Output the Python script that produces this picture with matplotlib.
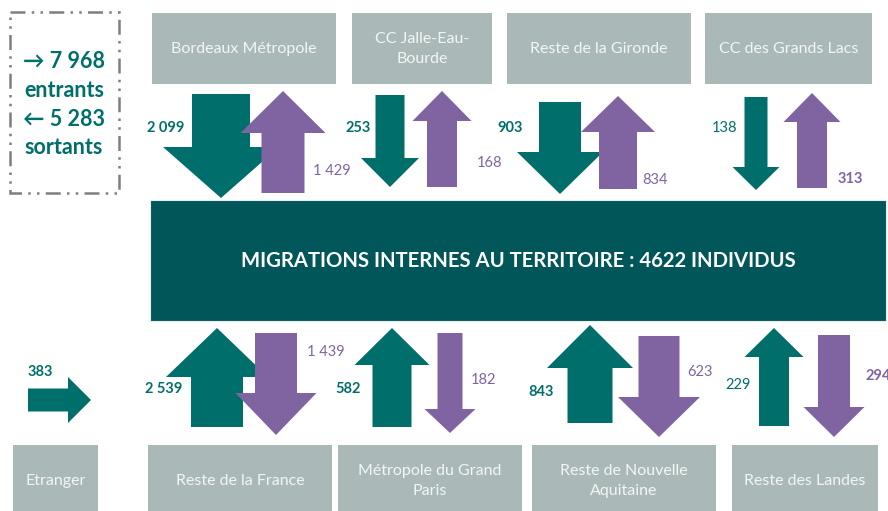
import matplotlib.pyplot as plt
from matplotlib.patches import Polygon, Rectangle

# DATA
top_names = ["Bordeaux Métropole", "CC Jalle-Eau-\nBourde", "Reste de la Gironde", "CC des Grands Lacs"]
top_entrants = ["2 099", "253", "903", "138"]
top_sortants = ["1 429", "168", "834", "313"]
bottom_names = ["Reste de la France", "Métropole du Grand\nParis", "Reste de Nouvelle\nAquitaine", "Reste des Landes"]
bottom_entrants = ["2 539", "582", "843", "229"]
bottom_sortants = ["1 439", "182", "623", "294"]
foreign_name = "Etranger"
foreign_entrants = "383"
total_in = "7 968"
total_out = "5 283"
title = "MIGRATIONS INTERNES AU TERRITOIRE : 4622 INDIVIDUS"

# STYLE / LAYOUT (pixel coordinates)
TEAL = "#006f6b"
DARK = "#005659"
PURPLE = "#8064a2"
GREY = "#aab9b8"
BOXTXT = "#f2f5f5"
FONT = "Lato"

top_boxes = [(152, 336), (352, 492), (507, 691), (705, 872)]
bottom_boxes = [(148, 332), (338, 522), (532, 716), (732, 878)]
# cx, tail, tip, shaft width, head width, head length
top_teal = [(221, 94, 198, 58, 116, 51), (390, 95, 187, 29, 58, 29),
            (560, 102, 194, 42, 86, 42), (756, 97, 190, 23, 47, 23)]
top_purple = [(283, 193, 91, 43, 85, 42), (442, 187, 91, 30, 59, 30),
              (618, 189, 96, 38, 74, 36), (812, 188, 93, 30, 57, 29)]
bot_teal = [(217, 427, 328, 52, 102, 49), (392, 427, 328, 39, 75, 37),
            (590, 423, 325, 45, 86, 43), (774, 426, 328, 30, 59, 29)]
bot_purple = [(276, 333, 435, 42, 81, 42), (450, 333, 433, 25, 51, 24),
              (659, 336, 437, 41, 82, 40), (834, 335, 437, 32, 61, 30)]
top_in_pos = [(147, 128, "bold"), (345, 128, "bold"), (497, 128, "bold"), (712, 128, "normal")]
top_out_pos = [(313, 171, "normal"), (477, 163, "normal"), (642, 180, "normal"), (838, 179, "bold")]
bot_in_pos = [(145, 389, "bold"), (335, 389, "bold"), (528, 392, "bold"), (725, 385, "normal")]
bot_out_pos = [(307, 352, "normal"), (471, 380, "normal"), (687, 372, "normal"), (865, 376, "bold")]


def varrow(ax, cx, tail, tip, sw, hw, hl, color):
    d = 1 if tip > tail else -1
    base = tip - d * hl
    pts = [(cx - sw / 2, tail), (cx + sw / 2, tail), (cx + sw / 2, base), (cx + hw / 2, base),
           (cx, tip), (cx - hw / 2, base), (cx - sw / 2, base)]
    ax.add_patch(Polygon(pts, closed=True, fc=color, ec="none"))


def harrow(ax, cy, tail, tip, sw, hw, hl, color):
    base = tip - hl
    pts = [(tail, cy - sw / 2), (base, cy - sw / 2), (base, cy - hw / 2), (tip, cy),
           (base, cy + hw / 2), (base, cy + sw / 2), (tail, cy + sw / 2)]
    ax.add_patch(Polygon(pts, closed=True, fc=color, ec="none"))


fig = plt.figure(figsize=(8.88, 5.11), dpi=100)
ax = fig.add_axes([0, 0, 1, 1])
ax.set_xlim(0, 888)
ax.set_ylim(511, 0)
ax.axis("off")

# grey boxes
for (x0, x1), name in zip(top_boxes, top_names):
    ax.add_patch(Rectangle((x0, 13), x1 - x0, 71, fc=GREY, ec="none"))
    ax.text((x0 + x1) / 2, 49, name, ha="center", va="center", color=BOXTXT,
            fontsize=11.5, family=FONT, linespacing=1.55)
for (x0, x1), name in zip(bottom_boxes, bottom_names):
    ax.add_patch(Rectangle((x0, 445), x1 - x0, 70, fc=GREY, ec="none"))
    ax.text((x0 + x1) / 2, 481, name, ha="center", va="center", color=BOXTXT,
            fontsize=11.5, family=FONT, linespacing=1.55)
ax.add_patch(Rectangle((13, 445), 85, 70, fc=GREY, ec="none"))
ax.text(55.5, 481, foreign_name, ha="center", va="center", color=BOXTXT, fontsize=11.5, family=FONT)

# central box
ax.add_patch(Rectangle((150, 200), 736, 121, fc=DARK, ec="#e6eeee", lw=0.8))
ax.text(518, 261, title, ha="center", va="center", color="white", fontsize=14.6,
        fontweight="bold", family=FONT)

# arrows: teal first, purple on top
for a in top_teal + bot_teal:
    varrow(ax, *a, TEAL)
for a in top_purple + bot_purple:
    varrow(ax, *a, PURPLE)
harrow(ax, 400, 28, 91, 23, 46, 23, TEAL)

# value labels
for v, (x, y, w) in zip(top_entrants, top_in_pos):
    ax.text(x, y, v, ha="left", va="center", color=TEAL, fontsize=10.5, fontweight=w, family=FONT)
for v, (x, y, w) in zip(top_sortants, top_out_pos):
    ax.text(x, y, v, ha="left", va="center", color=PURPLE, fontsize=10.5, fontweight=w, family=FONT)
for v, (x, y, w) in zip(bottom_entrants, bot_in_pos):
    ax.text(x, y, v, ha="left", va="center", color=TEAL, fontsize=10.5, fontweight=w, family=FONT)
for v, (x, y, w) in zip(bottom_sortants, bot_out_pos):
    ax.text(x, y, v, ha="left", va="center", color=PURPLE, fontsize=10.5, fontweight=w, family=FONT)
ax.text(28, 372, foreign_entrants, ha="left", va="center", color=TEAL, fontsize=10.5,
        fontweight="bold", family=FONT)

# summary box
ax.add_patch(Rectangle((10, 12), 109, 181, fc="none", ec="#7f7f7f", lw=1.8,
                       ls=(0, (6, 2.5, 1, 2.5, 1, 2.5))))
summary = ["\u2192 " + total_in, "entrants", "\u2190 " + total_out, "sortants"]
for i, s in enumerate(summary):
    ax.text(64, 62 + i * 28.5, s, ha="center", va="center", color=TEAL, fontsize=15.5,
            fontweight="bold", family=[FONT, "DejaVu Sans"])

fig.savefig("out.png", dpi=100)
